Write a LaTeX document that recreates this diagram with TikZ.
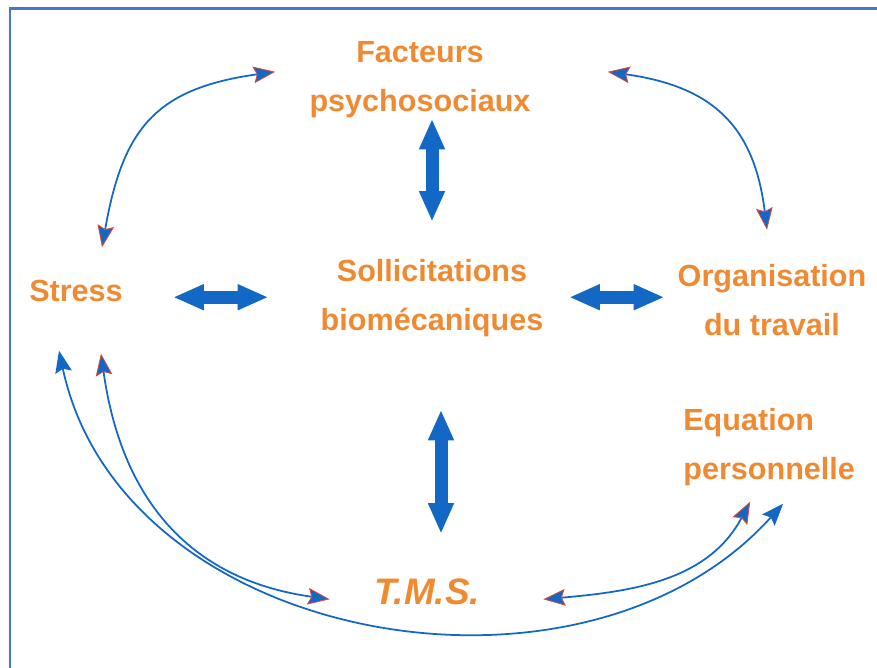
\documentclass[tikz,border=0pt]{standalone}
\usepackage{fontspec}
\setmainfont{Liberation Sans}
\usepackage{tikz}
\usetikzlibrary{arrows.meta,positioning,calc}
\definecolor{facorange}{RGB}{240,138,50}
\definecolor{lnblue}{RGB}{18,104,196}
\definecolor{framblue}{RGB}{72,118,204}
\definecolor{tipred}{RGB}{214,72,62}
\tikzset{
    Rtip/.tip={Stealth[length=12.5pt, width=9.5pt, inset=2pt, fill=lnblue, color=tipred, line width=0.5pt]},
    Btip/.tip={Stealth[length=12.5pt, width=9.5pt, inset=2pt]},
    Ttip/.tip={Triangle[length=17.5pt, width=13.6pt]},
    factor/.style={text=facorange, inner sep=0pt, align=center, font=\fontsize{17.4}{28.3}\selectfont\bfseries},
    link/.style={Rtip-Rtip, draw=lnblue, line width=1pt},
    plainlink/.style={Btip-Btip, draw=lnblue, line width=1pt},
    strong/.style={Ttip-Ttip, draw=lnblue, line width=7.4pt}
}
\begin{document}
\begin{tikzpicture}[x=0.02cm, y=0.02cm]
\useasboundingbox (0,0) rectangle (877,668);
\draw[framblue, line width=1.7pt] (10,0) |- (877,659);

\node[factor, anchor=base] (FP) at (420,556) {Facteurs\\psychosociaux};
\node[factor, anchor=base] (ST) at (76,366) {Stress};
\node[factor, anchor=base] (SB) at (432,337) {Sollicitations\\biomécaniques};
\node[factor, anchor=base] (OT) at (772,332) {Organisation\\du travail};
\node[factor, anchor=base west, align=left] (EP) at (683,188) {Equation\\personnelle};
\node[factor, anchor=base, font=\fontsize{21}{25}\selectfont\bfseries\itshape] (TMS) at (427,63) {T.M.S.};

\draw[strong] ([shift={(12,0)}]FP.south) -- ([shift={(0,37)}]SB.north);
\draw[strong] ([shift={(9,-72)}]SB.south) -- ([shift={(14,45)}]TMS.north);
\draw[strong] ($(ST.east |- SB.west)+(50,1)$) -- ([shift={(-52,1)}]SB.west);
\draw[strong] ([shift={(25.5,1)}]SB.east) -- ($(OT.west |- SB.east)+(-13,1)$);

\draw[link] ([shift={(26,33)}]ST.north) to[out=80, in=188, looseness=1.25] ([shift={(-34,8)}]FP.west);
\draw[link] ([shift={(77,8)}]FP.east) to[out=-8, in=97, looseness=1.2] ([shift={(-5,34)}]OT.north);
\draw[plainlink] ([shift={(-17,-48)}]ST.south) to[out=-78, in=228, looseness=1.04] ([shift={(14,-17)}]EP.south);
\draw[link] ([shift={(25,-51)}]ST.south) to[out=-82, in=172, looseness=1.1] ([shift={(-44,-7)}]TMS.west);
\draw[link] ([shift={(63,-7)}]TMS.east) to[out=5, in=242] ([shift={(-19,-15)}]EP.south);
\end{tikzpicture}
\end{document}
